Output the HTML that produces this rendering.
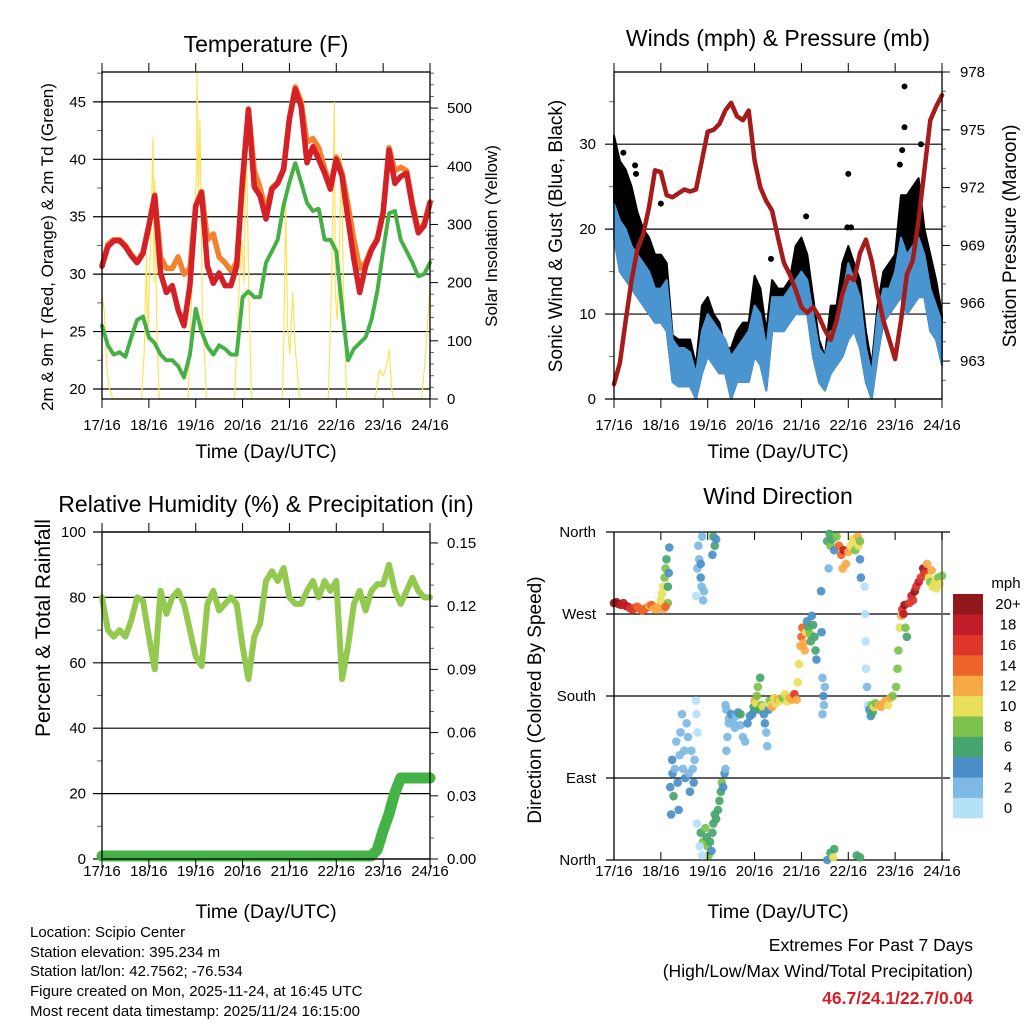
<!DOCTYPE html>
<html><head><meta charset="utf-8"><style>
html,body{margin:0;padding:0;background:#fff}
svg{display:block;font-family:"Liberation Sans",sans-serif}
</style></head><body>
<svg id="c" width="1024" height="1024" viewBox="0 0 1024 1024" xmlns="http://www.w3.org/2000/svg">
<rect width="1024" height="1024" fill="#fff"/>
<g id="g1"></g>
<g id="g2"></g>
<g id="g3"></g>
<g id="g4"></g>
<g font-size="15" fill="#000">
<text x="30" y="937">Location: Scipio Center</text>
<text x="30" y="957">Station elevation: 395.234 m</text>
<text x="30" y="976">Station lat/lon: 42.7562; -76.534</text>
<text x="30" y="996">Figure created on Mon, 2025-11-24, at 16:45 UTC</text>
<text x="30" y="1016">Most recent data timestamp: 2025/11/24 16:15:00</text>
</g>
<g font-size="17.5" text-anchor="end">
<text x="973" y="951">Extremes For Past 7 Days</text>
<text x="973" y="977">(High/Low/Max Wind/Total Precipitation)</text>
<text x="973" y="1004" fill="#d42027" font-weight="bold">46.7/24.1/22.7/0.04</text>
</g>
</svg>
<script>
const NS="http://www.w3.org/2000/svg";
const stepDays=0.125;
const dayLabels=["17/16","18/16","19/16","20/16","21/16","22/16","23/16","24/16"];
// Temperature (F), 3-hourly
const tempRed=[30.7,32.4,32.9,32.9,32.4,31.6,31.0,31.8,34.2,36.8,30.1,28.4,29.0,26.9,25.5,29.0,35.9,37.1,30.7,29.2,30.1,29.0,29.0,30.7,38.2,44.3,37.6,36.8,34.8,37.4,37.9,39.1,43.5,46.1,44.6,39.7,41.1,40.0,38.8,37.4,40.0,38.5,34.8,31.3,28.4,30.7,32.1,33.0,35.3,40.8,37.9,38.5,38.8,35.9,33.6,34.2,36.2];
const tempOrange=[30.7,32.6,33.0,33.0,32.5,31.7,31.1,31.9,34.3,36.9,31.5,30.5,30.5,31.5,30.0,30.5,36.0,37.2,33.0,33.5,31.5,31.0,30.3,31.0,38.3,44.4,39.0,37.5,35.5,37.5,38.0,39.2,43.6,46.3,45.0,41.5,41.8,41.0,39.2,37.6,40.2,38.8,36.0,33.0,30.5,31.0,32.2,33.1,35.4,41.0,39.0,39.3,39.0,36.2,33.8,34.4,36.3];
const dewGreen=[25.5,23.8,23.0,23.2,22.8,24.5,26.0,26.3,24.5,24.0,23.0,22.5,22.5,22.0,21.0,23.0,27.0,25.0,23.7,23.0,23.8,23.5,23.0,23.0,28.0,28.5,28.0,28.0,31.0,32.0,33.0,36.0,38.0,39.7,38.0,36.2,35.5,35.7,33.0,33.0,32.0,27.0,22.5,23.5,24.0,24.5,26.0,28.5,32.0,35.3,35.5,33.0,32.0,31.0,29.8,30.0,31.0];
const solarT=[0,0.05,0.1,0.15,0.23, 0.84,0.9,0.95,0.98,1.02,1.09,1.11,1.13,1.17,1.22, 1.84,1.94,2.02,2.03,2.06,2.09,2.14,2.23, 2.83,2.9,2.98,3.03,3.08,3.13,3.19, 3.85,3.88,3.92,3.96,4.01,4.07,4.12,4.22, 4.83,4.9,4.96,4.98,5.02,5.08,5.11,5.15,5.22, 5.83,5.9,5.93,6.0,6.08,6.13,6.18,6.22, 6.82,6.89,6.94,7.0];
const solarV=[180,150,60,20,0, 0,80,250,100,220,448,200,377,120,0, 0,250,400,560,350,480,150,0, 0,150,273,200,451,200,0, 0,100,337,120,78,182,90,0, 0,200,510,180,136,300,423,200,0, 0,40,50,40,60,84,20,0, 0,60,120,193];
const tempTicks=[20,25,30,35,40,45];
const solarTicks=[0,100,200,300,400,500];
// Winds (mph) & pressure (mb), 3-hourly
const windLow=[19,15,14,13,12,11,10,9,9,8,2,1.5,1.5,1.5,0,3,5,4,3,3,0,2,2,2,5,4,1,8,8,8,9,10,10,10,5,2,1,3,4,5,7,8,6,2,0,5,9,10,11,12,10,11,12,12,8,7,4];
const windHigh=[23,21,20,18,17,16,15,13,13,14,7,6,6,5.5,3,8,10,9,8,7,5,6,7,8,11,10,6,12,12,12,13,14,15,14,10,6,5,8,8,12,16,14,12,6,3,10,13,13,15,19,17,18,19,17,13,11,9];
const gustHigh=[31,28,27,25,22,20,19,17,17,16,7.5,7,7,7,4,11,12,10,9,6,6,8,9,9,14.5,13,8,14,13,13,14,18,19,17,12,7,5,11,11,16,18,16,14,8,4,11,15,16,17,24,24,25,26,20,17,14,10];
const gustOutT=[6.2,6.2,6.15,6.1,5.0,4.1,3.35,1.0,0.45,0.2,6.55,0.47,4.98,5.06];
const gustOutV=[36.8,32,29.3,27.6,26.5,21.5,16.5,23,27.5,29,30,26.5,20.2,20.2];
const pressure=[961.8,962.9,965.1,967.2,968.8,969.6,971.0,972.9,972.8,971.6,971.5,971.7,971.9,971.8,971.9,973.4,974.9,975.0,975.3,976.0,976.4,975.7,975.5,976.0,973.4,972.0,971.3,970.8,969.4,968.1,967.5,966.7,965.8,965.5,965.8,965.3,964.6,964.1,965.1,966.5,967.4,967.2,968.6,969.3,968.2,966.5,965.1,964.1,963.1,965.1,967.5,968.2,970.3,972.9,975.5,976.2,976.8];
const windTicks=[0,10,20,30];
const pressTicks=[963,966,969,972,975,978];
// RH (%) & precip (in), 3-hourly
const rh=[80,70,68,70,68,73,80,79,68,58,82,75,80,82,78,70,62,59,78,82,76,78,80,78,65,55,68,72,85,88,85,89,80,78,78,82,85,80,85,82,85,55,65,78,82,76,82,84,84,90,82,78,82,86,82,80,80];
const rain=[0,0,0,0,0,0,0,0,0,0,0,0,0,0,0,0,0,0,0,0,0,0,0,0,0,0,0,0,0,0,0,0,0,0,0,0,0,0,0,0,0,0,0,0,0,0,0.0,0.003,0.012,0.02,0.03,0.037,0.037,0.037,0.037,0.037,0.037];
const rhTicks=[0,20,40,60,80,100];
const rainTicks=[0,0.03,0.06,0.09,0.12,0.15];
// Wind direction
const dirTime=[0,0.05,0.1,0.15,0.2,0.25,0.3,0.35,0.4,0.45,0.5,0.55,0.6,0.65,0.7,0.75,0.8,0.85,0.9,0.95,
1.0,1.02,1.05,1.08,1.1,1.12,1.15,1.15,1.18,1.17,1.05,1.1,
1.2,1.22,1.24,1.25,1.27,1.3,1.33,1.36,1.38,1.4,1.42,1.45,1.47,1.5,1.52,1.55,1.58,1.6,1.62,1.65,1.68,1.7,1.72,1.75,1.76,1.78,1.77,
1.75,1.78,1.8,1.82,1.85,1.87,1.88,1.9,1.85,1.92,
1.85,1.9,1.95,1.98,2.0,2.02,2.05,2.08,2.1,2.12,2.15,2.18,1.83,1.88,
2.12,2.15,2.18,2.1,
2.22,2.25,2.28,2.3,2.33,2.36,2.38,2.4,2.42,2.45,
2.38,2.4,2.45,2.5,2.55,2.58,2.6,2.65,2.7,2.75,2.8,2.85,2.9,2.95,3.0,2.7,2.98,
3.0,3.03,3.05,3.07,3.1,3.12,3.15,3.18,3.2,3.22,3.25,3.27,3.3,3.32,3.35,3.38,
3.42,3.45,3.5,3.55,3.6,3.65,3.7,3.75,3.8,3.85,3.9,
3.92,3.95,3.98,4.0,4.02,4.05,4.07,4.1,
4.12,4.15,4.18,4.2,4.22,4.25,4.28,4.3,4.32,
4.42,4.43,4.45,4.47,4.48,4.5,4.45,
4.55,4.6,4.62,4.65,4.7,4.75,4.58,4.55,4.62,4.68,4.7,
4.8,4.85,4.9,4.95,5.0,4.88,
5.05,5.1,5.15,5.2,5.22,5.25,5.27,5.25,5.18,5.25,
5.35,5.36,5.37,5.38,5.4,5.42,
5.45,5.48,5.5,5.52,5.55,5.58,
5.65,5.7,5.75,5.8,5.85,5.9,5.95,
6.02,6.05,6.07,6.1,6.13,6.15,6.18,6.2,6.22,6.25,
6.3,6.35,6.38,6.42,6.45,6.5,6.55,6.6,6.62,
6.68,6.72,6.75,6.8,6.85,6.88,6.92,6.95,7.0,6.78];
const dirDeg=[282,283,281,280,282,279,278,276,275,277,278,276,274,275,277,279,280,276,275,278,
285,292,300,310,320,330,300,282,343,315,275,278,
80,50,110,95,70,100,130,85,55,115,140,160,100,120,90,150,135,95,75,120,100,85,110,175,160,140,40,
290,320,345,330,310,300,355,285,325,295,
30,20,35,25,15,5,20,10,30,40,50,45,15,5,
355,345,352,335,
55,65,75,85,80,95,100,120,135,150,
170,165,155,160,150,145,158,162,148,135,130,150,158,160,165,160,168,
175,172,180,190,165,200,170,168,160,150,140,125,165,175,170,168,
178,172,176,175,178,182,174,178,176,182,176,
195,215,235,245,255,238,230,250,
262,255,248,240,268,258,245,230,220,
295,250,200,180,170,190,160,
350,358,345,352,340,355,320,0,8,3,12,
345,335,340,325,338,320,
345,352,340,355,345,330,310,350,5,3,
300,270,240,210,190,170,
165,158,170,162,168,172,
170,168,172,175,170,178,180,
190,210,230,255,268,275,270,280,255,245,
282,290,285,295,300,305,310,320,315,
325,310,305,300,305,298,310,303,312,318];
const dirSpeed=[20,21,20,19,19,18,18,17,17,16,15,14,14,15,14,13,14,13,12,12,
10,11,10,9,8,7,6,8,4,5,12,14,
4,4,4,5,7,3,3,4,4,3,2,2,3,2,4,2,2,3,5,3,3,4,2,1,1,1,1,
1,2,2,3,4,2,2,2,4,2,
7,8,8,7,9,8,7,5,7,6,6,7,1,1,
6,7,5,4,
6,7,6,8,4,4,3,2,3,3,
3,2,3,4,2,3,3,5,3,2,3,4,4,5,4,6,6,
12,10,9,8,6,6,9,11,4,4,3,2,4,9,10,13,
11,10,12,11,8,11,10,12,12,16,13,
10,11,13,14,15,13,12,10,
4,6,8,6,5,6,7,6,4,
4,4,3,4,2,3,2,
6,7,8,6,5,8,2,4,6,10,6,
14,15,18,13,12,12,
10,11,8,12,10,4,4,8,7,6,
1,1,1,1,2,1,
4,5,8,6,10,9,
12,12,13,12,11,12,8,
8,8,8,10,12,16,18,20,8,7,
16,18,16,20,16,18,17,20,16,
13,10,9,10,11,10,8,10,8,12];
const dirTicks=[0,90,180,270,360];
const dirTickLabels=["North","East","South","West","North"];
const speedLevels=["0","2","4","6","8","10","12","14","16","18","20+"];
const speedColors=["#b4e1f8","#7db9e3","#4a8fc7","#48a56e","#7cc24b","#e8e05a","#f7a945","#ef6429","#de362b","#bf1d27","#92171b"];

function mk(tag,attrs,parent){const e=document.createElementNS(NS,tag);for(const k in attrs)e.setAttribute(k,attrs[k]);parent.appendChild(e);return e;}
function lin(d0,d1,r0,r1){return v=>r0+(v-d0)/(d1-d0)*(r1-r0);}
function txt(parent,x,y,s,size,anchor,name,rot){const t=mk('text',{x:x,y:y,'font-size':size,'text-anchor':anchor||'middle'},parent);if(rot)t.setAttribute('transform','rotate(-90 '+x+' '+y+')');t.textContent=s;

return t;}
function line(parent,x1,y1,x2,y2,w,name,col){const l=mk('line',{x1:x1,y1:y1,x2:x2,y2:y2,stroke:col||'#000','stroke-width':w||1},parent);

return l;}
function poly(parent,xs,ys,col,w,name,dash){let d='';for(let i=0;i<xs.length;i++)d+=(i?'L':'M')+xs[i].toFixed(1)+' '+ys[i].toFixed(1);
const p=mk('path',{d:d,fill:'none',stroke:col,'stroke-width':w,'stroke-linejoin':'round','stroke-linecap':'round'},parent);if(dash)p.setAttribute('stroke-dasharray',dash);

return p;}
function band(parent,xs,lo,hi,col,name,sw){let d='';for(let i=0;i<xs.length;i++)d+=(i?'L':'M')+xs[i].toFixed(1)+' '+hi[i].toFixed(1);for(let i=xs.length-1;i>=0;i--)d+='L'+xs[i].toFixed(1)+' '+lo[i].toFixed(1);d+='Z';
const p=mk('path',{d:d,fill:col,stroke:col,'stroke-width':sw||0,'stroke-linejoin':'round'},parent);

return p;}

function timeAxis(g,X,top,bot,inward,labY,titleY){
  for(let d=0;d<=7;d++){const x=X(d);
    if(inward){line(g,x,top,x,top+8,1,'x-tick-top');line(g,x,bot,x,bot-8,1,'x-tick-bottom');}
    else{line(g,x,top,x,top-9,1,'x-tick-top');line(g,x,bot,x,bot+9,1,'x-tick-bottom');}
    txt(g,x,labY,dayLabels[d],15,'middle','x-tick-label');}
  txt(g,(X(0)+X(7))/2,titleY,'Time (Day/UTC)',19.5,'middle','x-axis-title');
}
const days=rh.map((v,i)=>i*stepDays);

// ---------- Panel 1: temperature ----------
(function(){const g=document.getElementById('g1');const L=102,R=430,T=72,B=399;
const X=lin(0,7,L,R),Y=lin(19.13,47.6,B,T),S=lin(0,562,B,T);
txt(g,266,52,'Temperature (F)',23,'middle','chart-title');
for(const v of tempTicks){line(g,L-9,Y(v),R,Y(v),1.2,'y-gridline');txt(g,86,Y(v)+5,String(v),15,'end','y-tick-label');}
for(let v=22.5;v<47.6;v+=5)line(g,L-5,Y(v),L,Y(v),1,'y-minor-tick','#666');
for(const v of solarTicks){line(g,R,S(v),R+8,S(v),1,'y2-tick');txt(g,447,S(v)+5,String(v),15,'start','y2-tick-label');}
for(let v=20;v<562;v+=20)if(v%100)line(g,R,S(v),R+4,S(v),1,'y2-minor-tick','#666');
const sx=solarT.map(X),sy=solarV.map(S);poly(g,sx,sy,'#fde25a',1.2,'solar-insolation-line');
const xs=days.map(X);
poly(g,xs,tempOrange.map(Y),'#f4812f',5.5,'temp-9m-orange-line');
poly(g,xs,tempRed.map(Y),'#d42027',5.5,'temp-2m-red-line');
poly(g,xs,dewGreen.map(Y),'#45b045',4,'dewpoint-green-line','3 1.5');
mk('rect',{x:L,y:T,width:R-L,height:B-T,fill:'none',stroke:'#000','stroke-width':1.3},g);
timeAxis(g,X,T,B,false,430,458);
txt(g,53,247,'2m & 9m T (Red, Orange) & 2m Td (Green)',17,'middle','y-axis-title',true);
txt(g,497,236,'Solar Insolation (Yellow)',17,'middle','y2-axis-title',true);
})();

// ---------- Panel 2: winds & pressure ----------
(function(){const g=document.getElementById('g2');const L=614,R=942,T=72,B=399;
const X=lin(0,7,L,R),Y=lin(0,38.5,B,T),P=lin(961.03,978,B,T);
txt(g,778,46,'Winds (mph) & Pressure (mb)',23,'middle','chart-title');
for(const v of windTicks){line(g,L-9,Y(v),R,Y(v),1.2,'y-gridline');txt(g,596,Y(v)+5,String(v),15,'end','y-tick-label');}
for(let v=5;v<38.5;v+=10)line(g,L-5,Y(v),L,Y(v),1,'y-minor-tick','#666');
for(const v of pressTicks){line(g,R,P(v),R+8,P(v),1,'y2-tick');txt(g,960,P(v)+5,String(v),15,'start','y2-tick-label');}
for(let v=962;v<978;v+=1)if((v-963)%3)line(g,R,P(v),R+4,P(v),1,'y2-minor-tick','#666');
const xs=days.map(X);
band(g,xs,windLow.map(Y),gustHigh.map(Y),'#000','gust-black-band',2);
for(let i=0;i<gustOutT.length;i++){const c=mk('circle',{cx:X(gustOutT[i]),cy:Y(gustOutV[i]),r:3,fill:'#000'},g);

}
band(g,xs,windLow.map(Y),windHigh.map(Y),'#4a95cf','wind-blue-band',2);
poly(g,xs,pressure.map(P),'#a51c1c',4.5,'pressure-maroon-line');
mk('rect',{x:L,y:T,width:R-L,height:B-T,fill:'none',stroke:'#000','stroke-width':1.3},g);
timeAxis(g,X,T,B,false,430,458);
txt(g,562,236,'Sonic Wind & Gust (Blue, Black)',19,'middle','y-axis-title',true);
txt(g,1016,236,'Station Pressure (Maroon)',19,'middle','y2-axis-title',true);
})();

// ---------- Panel 3: RH & precipitation ----------
(function(){const g=document.getElementById('g3');const L=102,R=430,T=532,B=859;
const X=lin(0,7,L,R),Y=lin(0,100,B,T),Rn=lin(0,0.1552,B,T);
txt(g,266,512,'Relative Humidity (%) & Precipitation (in)',23,'middle','chart-title');
for(const v of rhTicks){line(g,L-9,Y(v),R,Y(v),1.2,'y-gridline');txt(g,86,Y(v)+5,String(v),15,'end','y-tick-label');}
for(let v=10;v<100;v+=20)line(g,L-5,Y(v),L,Y(v),1,'y-minor-tick','#666');
for(const v of rainTicks){line(g,R,Rn(v),R+8,Rn(v),1,'y2-tick');txt(g,447,Rn(v)+5,v.toFixed(2),15,'start','y2-tick-label');}
for(let v=0.01;v<0.155;v+=0.01)if(Math.round(v*100)%3)line(g,R,Rn(v),R+4,Rn(v),1,'y2-minor-tick','#666');
const xs=days.map(X);
poly(g,xs,rh.map(Y),'#94c94f',6,'humidity-line');
poly(g,xs,rain.map(v=>Rn(v)-3),'#44b244',11,'rainfall-line');
mk('rect',{x:L,y:T,width:R-L,height:B-T,fill:'none',stroke:'#000','stroke-width':1.3},g);
timeAxis(g,X,T,B,false,876,918);
txt(g,50,628,'Percent & Total Rainfall',21,'middle','y-axis-title',true);
})();

// ---------- Panel 4: wind direction ----------
(function(){const g=document.getElementById('g4');const L=614,R=942,T=532,B=860;
const X=lin(0,7,L,R),Y=lin(0,360,B,T);
txt(g,778,504,'Wind Direction',23,'middle','chart-title');
for(let i=0;i<dirTicks.length;i++){const y=Y(dirTicks[i]);line(g,L-8,y,R+8,y,1.2,'y-gridline');txt(g,596,y+5,dirTickLabels[i],15,'end','y-tick-label');}
for(let i=0;i<dirTime.length;i++){const k=Math.min(10,Math.max(0,Math.floor(dirSpeed[i]/2)));
const c=mk('circle',{cx:X(dirTime[i]),cy:Y(dirDeg[i]),r:4.3,fill:speedColors[k],'fill-opacity':0.92},g);

}
line(g,L,T,L,B,1.3,'left-frame');line(g,R,T,R,B,1.6,'right-frame','#666');
timeAxis(g,X,T,B,true,876,918);
txt(g,541,700,'Direction (Colored By Speed)',19,'middle','y-axis-title',true);
const bh=(818-594)/speedColors.length;
for(let i=0;i<speedColors.length;i++){const y=818-(i+1)*bh;
const r=mk('rect',{x:953,y:y,width:30,height:bh+0.3,fill:speedColors[i]},g);


txt(g,1008,y+bh/2+5,speedLevels[i],15,'middle','colorbar-label');}
txt(g,1006,588,'mph',15,'middle','colorbar-title');
})();
</script>
</body></html>
